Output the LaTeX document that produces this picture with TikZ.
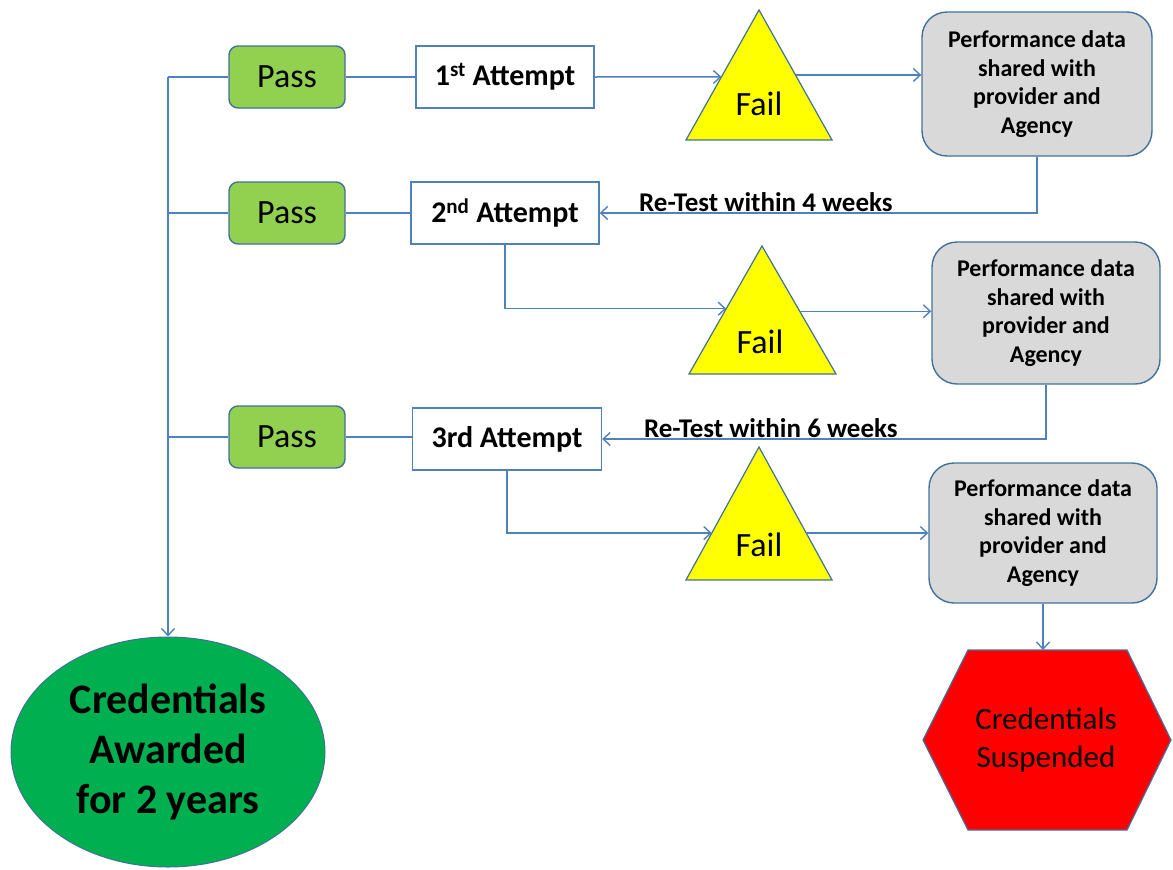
\documentclass[tikz,border=0pt]{standalone}
\usepackage{fontspec}
\setmainfont{Carlito}
\usetikzlibrary{arrows.meta,calc,shapes.geometric}
\definecolor{ln}{HTML}{4F81BD}
\definecolor{bd}{HTML}{41719C}
\definecolor{passg}{HTML}{92D050}
\definecolor{perfg}{HTML}{D9D9D9}
\definecolor{credg}{HTML}{00B050}
\definecolor{tri}{HTML}{FFFF00}
\definecolor{susp}{HTML}{FF0000}
\begin{document}
\begin{tikzpicture}[x=1pt,y=-1pt,
  conn/.style={draw=ln, line width=1.5pt},
  arr/.style={conn, -{Straight Barb[length=7pt,width=13pt,line width=1.4pt]}},
  passbox/.style={draw=bd, line width=1.4pt, fill=passg, rounded corners=9pt, minimum width=116pt, minimum height=62pt, inner sep=0pt, font=\fontsize{34}{40}\selectfont},
  attbox/.style={draw=ln, line width=1.4pt, fill=white, minimum height=62pt, inner sep=0pt, font=\bfseries\fontsize{30}{36}\selectfont},
  perfbox/.style={draw=bd, line width=1.4pt, fill=perfg, rounded corners=25pt, minimum width=230pt, minimum height=144pt, inner sep=0pt, align=center, font=\bfseries\fontsize{24}{28.7}\selectfont},
  trishape/.style={draw=bd, line width=1.2pt, fill=tri},
  faillbl/.style={font=\fontsize{34}{40}\selectfont, inner sep=0pt},
  retest/.style={font=\bfseries\fontsize{27}{32}\selectfont, anchor=base, inner sep=0pt, yshift=2pt}
]
\useasboundingbox (0,0) rectangle (1173,870);

% Pass boxes
\node[passbox] (pass1) at (287,77) {Pass};
\node[passbox] (pass2) at (287,213) {Pass};
\node[passbox] (pass3) at (287,437) {Pass};

% Attempt boxes
\node[attbox, minimum width=178pt] (att1) at (505,77) {1\textsuperscript{st} Attempt};
\node[attbox, minimum width=188pt] (att2) at (505,213) {2\textsuperscript{nd} Attempt};
\node[attbox, minimum width=189pt] (att3) at (507,439) {3rd Attempt};

% Triangles
\draw[trishape] (759,10) coordinate (t1a) -- (832,140) coordinate (t1r) -- (686,140) coordinate (t1l) -- cycle;
\node[faillbl] (f1) at (759,104) {Fail};
\draw[trishape] (762,246) coordinate (t2a) -- (836,374) coordinate (t2r) -- (689,374) coordinate (t2l) -- cycle;
\node[faillbl] (f2) at (760,342) {Fail};
\draw[trishape] (759,447) coordinate (t3a) -- (832,580) coordinate (t3r) -- (686,580) coordinate (t3l) -- cycle;
\node[faillbl] (f3) at (759,545) {Fail};

\coordinate (t1in) at ($(t1a)!0.515!(t1l)$);
\coordinate (t1out) at ($(t1a)!0.5!(t1r)$);
\coordinate (t2in) at ($(t2a)!0.49!(t2l)$);
\coordinate (t2out) at ($(t2a)!0.51!(t2r)$);
\coordinate (t3in) at ($(t3a)!0.647!(t3l)$);
\coordinate (t3out) at ($(t3a)!0.647!(t3r)$);

% Performance boxes
\node[perfbox] (perf1) at (1037,84) {Performance data\\shared with\\provider and\\Agency};
\node[perfbox, minimum width=228pt, minimum height=142pt] (perf2) at (1046,313) {Performance data\\shared with\\provider and\\Agency};
\node[perfbox, minimum width=228pt, minimum height=140pt] (perf3) at (1043,533) {Performance data\\shared with\\provider and\\Agency};

% Credentials awarded
\node[ellipse, draw=bd, line width=1pt, fill=credg, minimum width=314pt, minimum height=230pt, inner sep=0pt, align=center, font=\bfseries\fontsize{42}{50}\selectfont] (cred) at (168,752) {Credentials\\Awarded\\for 2 years};

% Credentials suspended (hexagon)
\draw[draw=bd, line width=1.2pt, fill=susp] (968,650) -- (1127,650) -- (1171,740) -- (1127,830) -- (968,830) -- (923,740) -- cycle;
\coordinate (hextop) at (1043,650);
\node[align=center, inner sep=0pt, font=\fontsize{31}{38}\selectfont] (susplbl) at (1046,740) {Credentials\\Suspended};

% Left trunk
\coordinate (trunk) at (168,77);
\draw[conn] (trunk) -- (pass1.west);
\draw[conn] (pass2.west -| trunk) -- (pass2.west);
\draw[conn] (pass3.west -| trunk) -- (pass3.west);
\draw[arr] (trunk) -- (cred.north);

% Pass to attempts
\draw[conn] (pass1.east) -- (pass1.east -| att1.west);
\draw[conn] (pass2.east) -- (pass2.east -| att2.west);
\draw[conn] (pass3.east) -- (pass3.east -| att3.west);

% Attempts to Fail
\draw[arr] (att1.east) -- (t1in);
\draw[arr] (att2.south) |- (t2in);
\draw[arr] (att3.south) |- (t3in);

% Fail to performance
\draw[arr] (t1out) -- (t1out -| perf1.west);
\draw[arr] (t2out) -- (t2out -| perf2.west);
\draw[arr] (t3out) -- (t3out -| perf3.west);

% Re-tests
\draw[arr] (perf1.south) |- (att2.east) node[retest, pos=0.81] {Re-Test within 4 weeks};
\draw[arr] (perf2.south) |- (att3.east) node[retest, pos=0.81] {Re-Test within 6 weeks};

% Suspended
\draw[arr] (perf3.south) -- (hextop);
\end{tikzpicture}
\end{document}
